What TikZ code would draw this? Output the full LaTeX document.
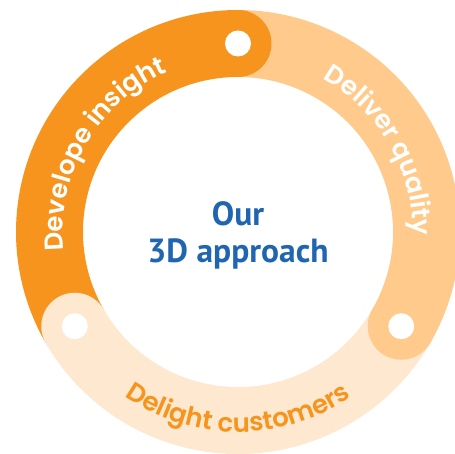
\documentclass[tikz,border=0pt]{standalone}
\usepackage{fontspec}
\usetikzlibrary{decorations.text,calc}
\newfontfamily\popfont{Poppins SemiBold}
\newfontfamily\ptfont{PT Sans}
\definecolor{darkor}{HTML}{F7941D}
\definecolor{lightor}{HTML}{FFCA8B}
\definecolor{creamor}{HTML}{FEE8CF}
\definecolor{blueT}{HTML}{1F65B0}
\begin{document}
\begin{tikzpicture}[x=1pt,y=1pt,
  band/.style={line width=67pt},
  dotw/.style={fill=white},
  ringtext/.style={decorate},
]
\useasboundingbox (0,0) rectangle (455,454);
\coordinate (c) at (238,222);
% butt arcs
\draw[band,darkor] ($(c)+(90:188.5)$) arc[start angle=90,end angle=210,radius=188.5];
\draw[band,creamor] ($(c)+(210:188.5)$) arc[start angle=210,end angle=330,radius=188.5];
\draw[band,lightor] ($(c)+(330:188.5)$) arc[start angle=330,end angle=450,radius=188.5];
% caps
\coordinate (p1) at ($(c)+(90:188.5)$);
\coordinate (p2) at ($(c)+(210:188.5)$);
\coordinate (p3) at ($(c)+(330:188.5)$);
\fill[darkor] (p1) circle (33.5);
\fill[creamor] (p2) circle (33.5);
\fill[lightor] (p3) circle (33.5);
% white dots
\fill[dotw] (p1) circle (13);
\fill[dotw] (p2) circle (13);
\fill[dotw] (p3) circle (13);
% ring texts
\path[ringtext,decoration={text along path,text align=center,
  text={|\popfont\fontsize{26}{26}\selectfont\color{white}|Develope insight}}]
  ($(c)+(210:175)$) arc[start angle=210,end angle=90,radius=175];
\path[ringtext,decoration={text along path,text align=center,
  text={|\popfont\fontsize{26}{26}\selectfont\color{white}|Deliver quality}}]
  ($(c)+(91:175)$) arc[start angle=91,end angle=-31,radius=175];
\path[ringtext,decoration={text along path,text align=center,
  text={|\popfont\fontsize{26}{26}\selectfont\color{darkor}|Delight customers}}]
  ($(c)+(210:200)$) arc[start angle=210,end angle=330,radius=200];
% center text
\node[font=\ptfont\bfseries\fontsize{33.5}{37}\selectfont,text=blueT,align=center] (t) at (238,219) {Our\\3D approach};
\end{tikzpicture}
\end{document}
